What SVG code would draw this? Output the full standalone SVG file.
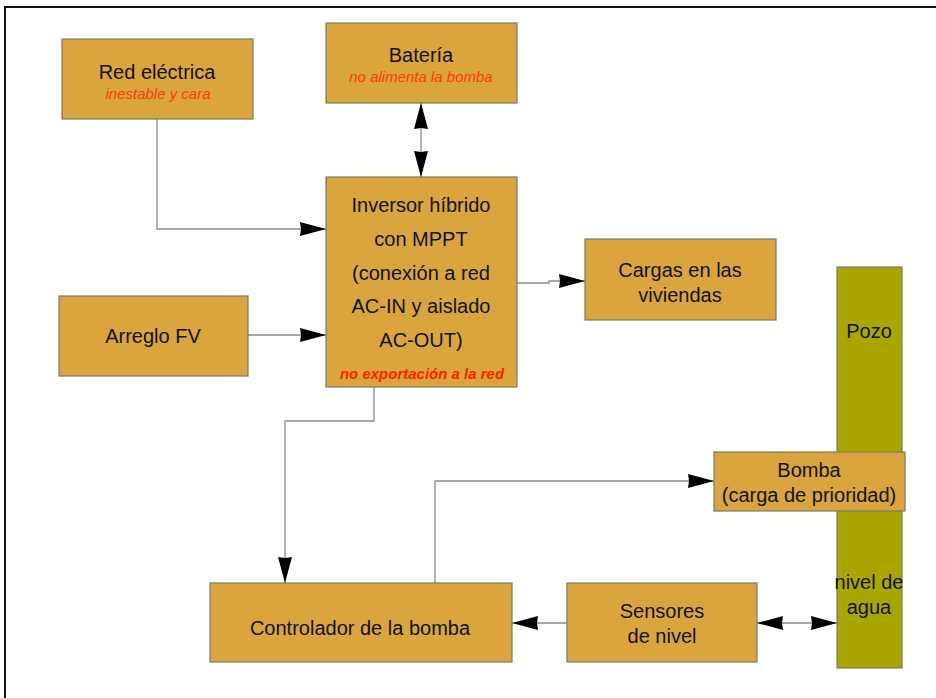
<svg xmlns="http://www.w3.org/2000/svg" width="936" height="698" viewBox="0 0 936 698">
<style>
.box{fill:#DAA53D;stroke:#7a7a6a;stroke-width:1.2}
.well{fill:#AAA600;stroke:#7a7a6a;stroke-width:1.2}
.t{font-family:"Liberation Sans",Arial,sans-serif;font-size:20px;fill:#111;text-anchor:middle}
.r{font-family:"Liberation Sans",Arial,sans-serif;font-size:15px;font-style:italic;fill:#FF3A12;text-anchor:middle}
.rb{font-weight:bold;fill:#FF2200}
.c{fill:none;stroke:#8a8a8a;stroke-width:1.3}
</style>
<defs>
<marker id="ah" viewBox="0 0 26 14" refX="26" refY="7" markerWidth="26" markerHeight="14" markerUnits="userSpaceOnUse" orient="auto-start-reverse">
<path d="M0,0 L26,7 L0,14 L1,7 z" fill="#000"/>
</marker>
</defs>
<rect width="936" height="698" fill="#fff"/>
<path d="M5,698 V7 H936" fill="none" stroke="#111" stroke-width="2"/>

<g id="connectors">
<path class="c" d="M157,119 V229 H326" marker-end="url(#ah)"/>
<path class="c" d="M248,335 H326" marker-end="url(#ah)"/>
<path class="c" d="M421,103 V177" marker-start="url(#ah)" marker-end="url(#ah)"/>
<path class="c" d="M517,283 H549 V281 H585" marker-end="url(#ah)"/>
<path class="c" d="M374,387 V421 H285 V583" marker-end="url(#ah)"/>
<path class="c" d="M435,583 V481 H714" marker-end="url(#ah)"/>
<path class="c" d="M567,623 H512" marker-end="url(#ah)"/>
<path class="c" d="M757,623 H837" marker-start="url(#ah)" marker-end="url(#ah)"/>
</g>

<g id="red-electrica">
<rect class="box" x="62" y="39" width="191" height="80"/>
<text class="t" x="157" y="79">Red eléctrica</text>
<text class="r" x="158" y="99">inestable y cara</text>
</g>

<g id="bateria">
<rect class="box" x="326" y="23" width="191" height="80"/>
<text class="t" x="421" y="62">Batería</text>
<text class="r" x="421" y="82">no alimenta la bomba</text>
</g>

<g id="inversor">
<rect class="box" x="326" y="177" width="191" height="210"/>
<text class="t" x="421" y="212">Inversor híbrido</text>
<text class="t" x="421" y="246">con MPPT</text>
<text class="t" x="421" y="280">(conexión a red</text>
<text class="t" x="421" y="313">AC-IN y aislado</text>
<text class="t" x="421" y="347">AC-OUT)</text>
<text class="r rb" x="422" y="379">no exportación a la red</text>
</g>

<g id="arreglo-fv">
<rect class="box" x="59" y="296" width="189" height="80"/>
<text class="t" x="153" y="343">Arreglo FV</text>
</g>

<g id="cargas">
<rect class="box" x="585" y="239" width="191" height="81"/>
<text class="t" x="680" y="277">Cargas en las</text>
<text class="t" x="680" y="302">viviendas</text>
</g>

<g id="pozo">
<rect class="well" x="837" y="267" width="65" height="401"/>
<text class="t" x="869" y="338">Pozo</text>
<text class="t" x="869" y="589">nivel de</text>
<text class="t" x="869" y="614">agua</text>
</g>

<g id="bomba">
<rect class="box" x="714" y="452" width="191" height="59"/>
<text class="t" x="809" y="477">Bomba</text>
<text class="t" x="809" y="502">(carga de prioridad)</text>
</g>

<g id="controlador">
<rect class="box" x="210" y="583" width="302" height="79"/>
<text class="t" x="360" y="635">Controlador de la bomba</text>
</g>

<g id="sensores">
<rect class="box" x="567" y="583" width="190" height="79"/>
<text class="t" x="662" y="618">Sensores</text>
<text class="t" x="662" y="643">de nivel</text>
</g>
</svg>
